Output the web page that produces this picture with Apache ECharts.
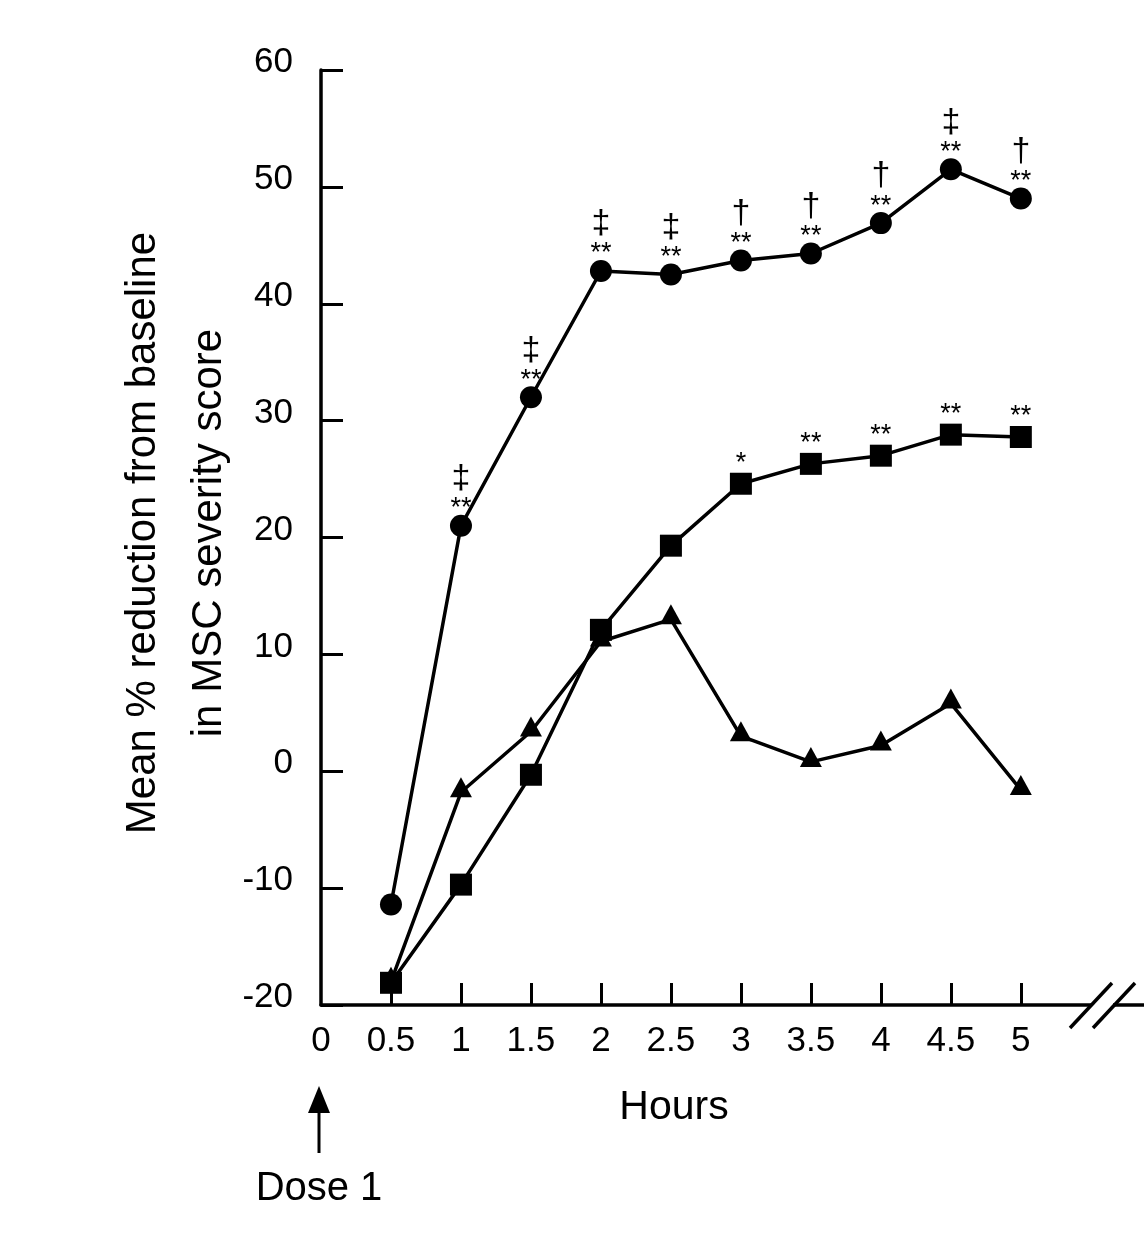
<!DOCTYPE html>
<html>
<head>
<meta charset="utf-8">
<script src="https://cdn.jsdelivr.net/npm/echarts@6/dist/echarts.min.js"></script>
<style>
html,body{margin:0;padding:0;background:#fff;}
#chart{width:1144px;height:1244px;}
</style>
</head>
<body>
<div id="chart"></div>
<script>
// ---- data ----
var hours = [0.5, 1, 1.5, 2, 2.5, 3, 3.5, 4, 4.5, 5];
var xTickLabels = [0, 0.5, 1, 1.5, 2, 2.5, 3, 3.5, 4, 4.5, 5];
var xTickMarks = [0.5, 1, 1.5, 2, 2.5, 3, 3.5, 4, 4.5, 5];
var circleValues = [-11.4, 21.0, 32.0, 42.8, 42.5, 43.7, 44.3, 46.9, 51.5, 49.0];
var squareValues = [-18.1, -9.7, -0.3, 12.1, 19.3, 24.6, 26.3, 27.0, 28.8, 28.6];
var triangleValues = [-18.0, -1.8, 3.4, 11.1, 13.0, 3.0, 0.8, 2.2, 5.8, -1.6];
var circleStars = ['', '**', '**', '**', '**', '**', '**', '**', '**', '**'];
var circleDaggers = ['', '\u2021', '\u2021', '\u2021', '\u2021', '\u2020', '\u2020', '\u2020', '\u2021', '\u2020'];
var squareStars = ['', '', '', '', '', '*', '**', '**', '**', '**'];

var FONT = '"Liberation Sans", Arial, Helvetica, sans-serif';

function pairs(vals) {
  return hours.map(function (h, i) { return [h, vals[i]]; });
}

var circleData = hours.map(function (h, i) {
  var txt = circleStars[i] ? ('{d|' + circleDaggers[i] + '}\n{s|' + circleStars[i] + '}') : '';
  return { value: [h, circleValues[i]], label: { show: !!txt, formatter: txt } };
});
var squareData = hours.map(function (h, i) {
  var txt = squareStars[i] ? ('{s|' + squareStars[i] + '}') : '';
  return { value: [h, squareValues[i]], label: { show: !!txt, formatter: txt } };
});

var richStyle = {
  d: { fontSize: 34, lineHeight: 44, fontFamily: FONT, color: '#000' },
  s: { fontSize: 27, lineHeight: 16, fontFamily: FONT, color: '#000' }
};

var chart = echarts.init(document.getElementById('chart'), null, { renderer: 'canvas' });
var option = {
  backgroundColor: '#fff',
  animation: false,
  grid: { left: 321, top: 70, right: 0, bottom: 239, containLabel: false },
  xAxis: {
    type: 'value', min: 0, max: 5.88,
    splitLine: { show: false },
    axisLine: { show: true, onZero: false, lineStyle: { color: '#000', width: 3.5 } },
    axisTick: { show: true, inside: true, length: 22, customValues: xTickMarks, lineStyle: { color: '#000', width: 3 } },
    axisLabel: { show: true, customValues: xTickLabels, margin: 19, fontSize: 35, color: '#000', fontFamily: FONT }
  },
  yAxis: {
    type: 'value', min: -20, max: 60, interval: 10,
    splitLine: { show: false },
    axisLine: { show: true, onZero: false, lineStyle: { color: '#000', width: 3.5 } },
    axisTick: { show: true, inside: true, length: 22, lineStyle: { color: '#000', width: 3 } },
    axisLabel: { show: true, margin: 28, fontSize: 35, color: '#000', fontFamily: FONT, verticalAlign: 'bottom', lineHeight: 15 }
  },
  series: [
    {
      type: 'line', data: pairs(triangleValues), symbol: 'triangle', symbolSize: [22, 20], symbolOffset: [0, -5],
      lineStyle: { color: '#000', width: 3.5 }, itemStyle: { color: '#000' }, z: 2
    },
    {
      type: 'line', data: squareData, symbol: 'rect', symbolSize: 22,
      lineStyle: { color: '#000', width: 3.5 }, itemStyle: { color: '#000' }, z: 3,
      label: { position: 'top', distance: 1, rich: richStyle, color: '#000' }
    },
    {
      type: 'line', data: circleData, symbol: 'circle', symbolSize: 22,
      lineStyle: { color: '#000', width: 3.5 }, itemStyle: { color: '#000' }, z: 4,
      label: { position: 'top', distance: -2, rich: richStyle, color: '#000', align: 'center' }
    }
  ],
  graphic: [
    { type: 'text', x: 176, y: 533, rotation: Math.PI / 2,
      style: { text: 'Mean % reduction from baseline\nin MSC severity score', font: '42px ' + FONT, fill: '#000', align: 'center', verticalAlign: 'middle', lineHeight: 66 } },
    { type: 'text', x: 674, y: 1108,
      style: { text: 'Hours', font: '41px ' + FONT, fill: '#000', align: 'center', verticalAlign: 'middle' } },
    { type: 'text', x: 319, y: 1189,
      style: { text: 'Dose 1', font: '40px ' + FONT, fill: '#000', align: 'center', verticalAlign: 'middle' } },
    { type: 'line', shape: { x1: 319, y1: 1153, x2: 319, y2: 1108 }, style: { stroke: '#000', lineWidth: 3 } },
    { type: 'polygon', shape: { points: [[319, 1086], [308, 1113], [330, 1113]] }, style: { fill: '#000' } },
    { type: 'rect', shape: { x: 1092, y: 999, width: 21, height: 12 }, style: { fill: '#fff' }, z: 100 },
    { type: 'line', shape: { x1: 1070, y1: 1028, x2: 1112, y2: 983 }, style: { stroke: '#000', lineWidth: 3.5 }, z: 101 },
    { type: 'line', shape: { x1: 1093, y1: 1028, x2: 1135, y2: 983 }, style: { stroke: '#000', lineWidth: 3.5 }, z: 101 }
  ]
};
chart.setOption(option);
</script>
</body>
</html>
